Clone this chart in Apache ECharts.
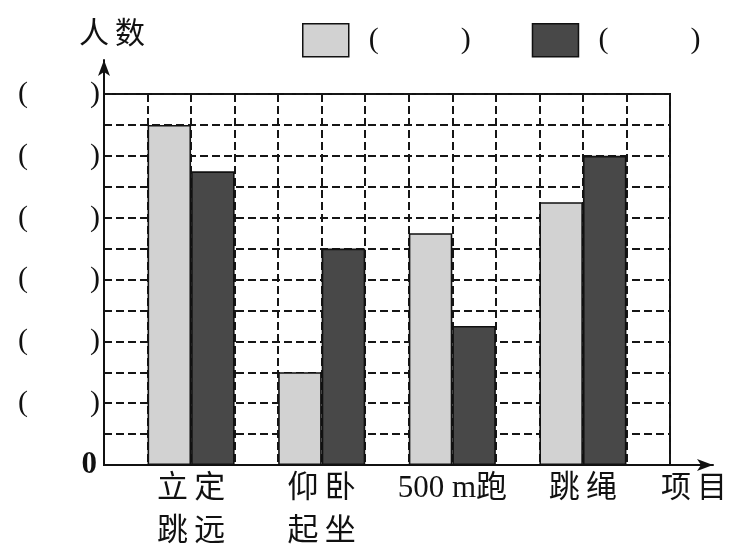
<!DOCTYPE html>
<html><head><meta charset="utf-8">
<script src="https://cdn.jsdelivr.net/npm/echarts@6/dist/echarts.min.js"></script>
<style>html,body{margin:0;padding:0;background:#fff}#c{width:740px;height:548px}</style>
</head><body><div id="c"></div>
<script>
const categories = ['立\u2009定\n跳\u2009远', '仰\u2009卧\n起\u2009坐', '500 m跑', '跳\u2009绳'];
const lightValues = [11, 3, 7.5, 8.5];
const darkValues = [9.5, 7, 4.5, 10];
const seriesNames = ['甲', '乙'];
const yMax = 12;
const columns = 13;

const W = 740, H = 548;
const L = 104, R = 670, T = 94, B = 465;
const colW = (R - L) / columns;
const barLeft = L + colW * 0.5;
const barRight = barLeft + colW * 3 * categories.length;
const serif = "'Liberation Serif','Noto Sans CJK SC',serif";
const dash = {color: '#161616', width: 2, type: [8, 4]};

const chart = echarts.init(document.getElementById('c'));
chart.setOption({
  backgroundColor: '#fff',
  animation: false,
  legend: {
    left: 302, top: 23, padding: 0, itemWidth: 46, itemHeight: 33, itemGap: 61,
    icon: 'rect',
    itemStyle: {borderColor: '#111', borderWidth: 1.5},
    formatter: () => '{p|(}{s| }{p|)}',
    textStyle: {
      padding: [0, 0, 0, 15],
      rich: {
        p: {fontFamily: serif, fontSize: 30, color: '#111'},
        s: {width: 82}
      }
    },
    data: seriesNames
  },
  grid: [
    {left: L, right: W - R, top: T, bottom: H - B, outerBoundsMode: 'none', containLabel: false,
     show: true, borderColor: '#111', borderWidth: 2},
    {left: barLeft, right: W - barRight, top: T, bottom: H - B, outerBoundsMode: 'none', containLabel: false},
    {left: L, right: 27, top: 60, bottom: H - B, outerBoundsMode: 'none', containLabel: false}
  ],
  xAxis: [
    {gridIndex: 0, type: 'value', min: 0, max: columns, interval: 1,
     axisLine: {show: false}, axisTick: {show: false}, axisLabel: {show: false},
     splitLine: {show: true, lineStyle: dash}},
    {gridIndex: 1, type: 'category', data: categories,
     axisLine: {show: false}, axisTick: {show: false},
     axisLabel: {margin: 2, fontFamily: serif, fontSize: 31, lineHeight: 43, color: '#111', interval: 0}},
    {gridIndex: 2, type: 'value', min: 0, max: 1,
     axisLine: {show: true, symbol: ['none', 'arrow'], symbolSize: [9, 16], lineStyle: {color: '#111', width: 2}},
     axisTick: {show: false}, axisLabel: {show: false}, splitLine: {show: false},
     name: '项\u2009目', nameLocation: 'end', nameGap: 14,
     nameTextStyle: {fontFamily: serif, fontSize: 30, color: '#111', align: 'right', verticalAlign: 'top', padding: [9, 0, 0, 0]}}
  ],
  yAxis: [
    {gridIndex: 0, type: 'value', min: 0, max: yMax, interval: 1,
     axisLine: {show: false}, axisTick: {show: false},
     axisLabel: {
       margin: 4,
       formatter: v => v === 0 ? '{z|0}' : (v % 2 === 0 ? '{p|(}{s| }{p|)}' : ''),
       rich: {
         p: {fontFamily: serif, fontSize: 30, color: '#111'},
         s: {width: 62},
         z: {fontFamily: serif, fontSize: 31, fontWeight: 'bold', color: '#111', padding: [0, 3, 0, 0]}
       }
     },
     splitLine: {show: true, lineStyle: dash}},
    {gridIndex: 1, type: 'value', min: 0, max: yMax, show: false},
    {gridIndex: 2, type: 'value', min: 0, max: 1,
     axisLine: {show: true, symbol: ['none', 'arrow'], symbolSize: [9, 16], lineStyle: {color: '#111', width: 2}},
     axisTick: {show: false}, axisLabel: {show: false}, splitLine: {show: false},
     name: '人\u2009数', nameLocation: 'end', nameGap: 10,
     nameTextStyle: {fontFamily: serif, fontSize: 30, color: '#111', align: 'center', padding: [0, 0, 0, 16]}}
  ],
  series: [
    {name: seriesNames[0], type: 'bar', xAxisIndex: 1, yAxisIndex: 1, data: lightValues,
     barWidth: colW, barGap: '0%',
     itemStyle: {color: '#d2d2d2', borderColor: '#111', borderWidth: 1.6}},
    {name: seriesNames[1], type: 'bar', xAxisIndex: 1, yAxisIndex: 1, data: darkValues,
     barWidth: colW, barGap: '0%',
     itemStyle: {color: '#484848', borderColor: '#111', borderWidth: 1.6}}
  ]
});
</script>
</body></html>
